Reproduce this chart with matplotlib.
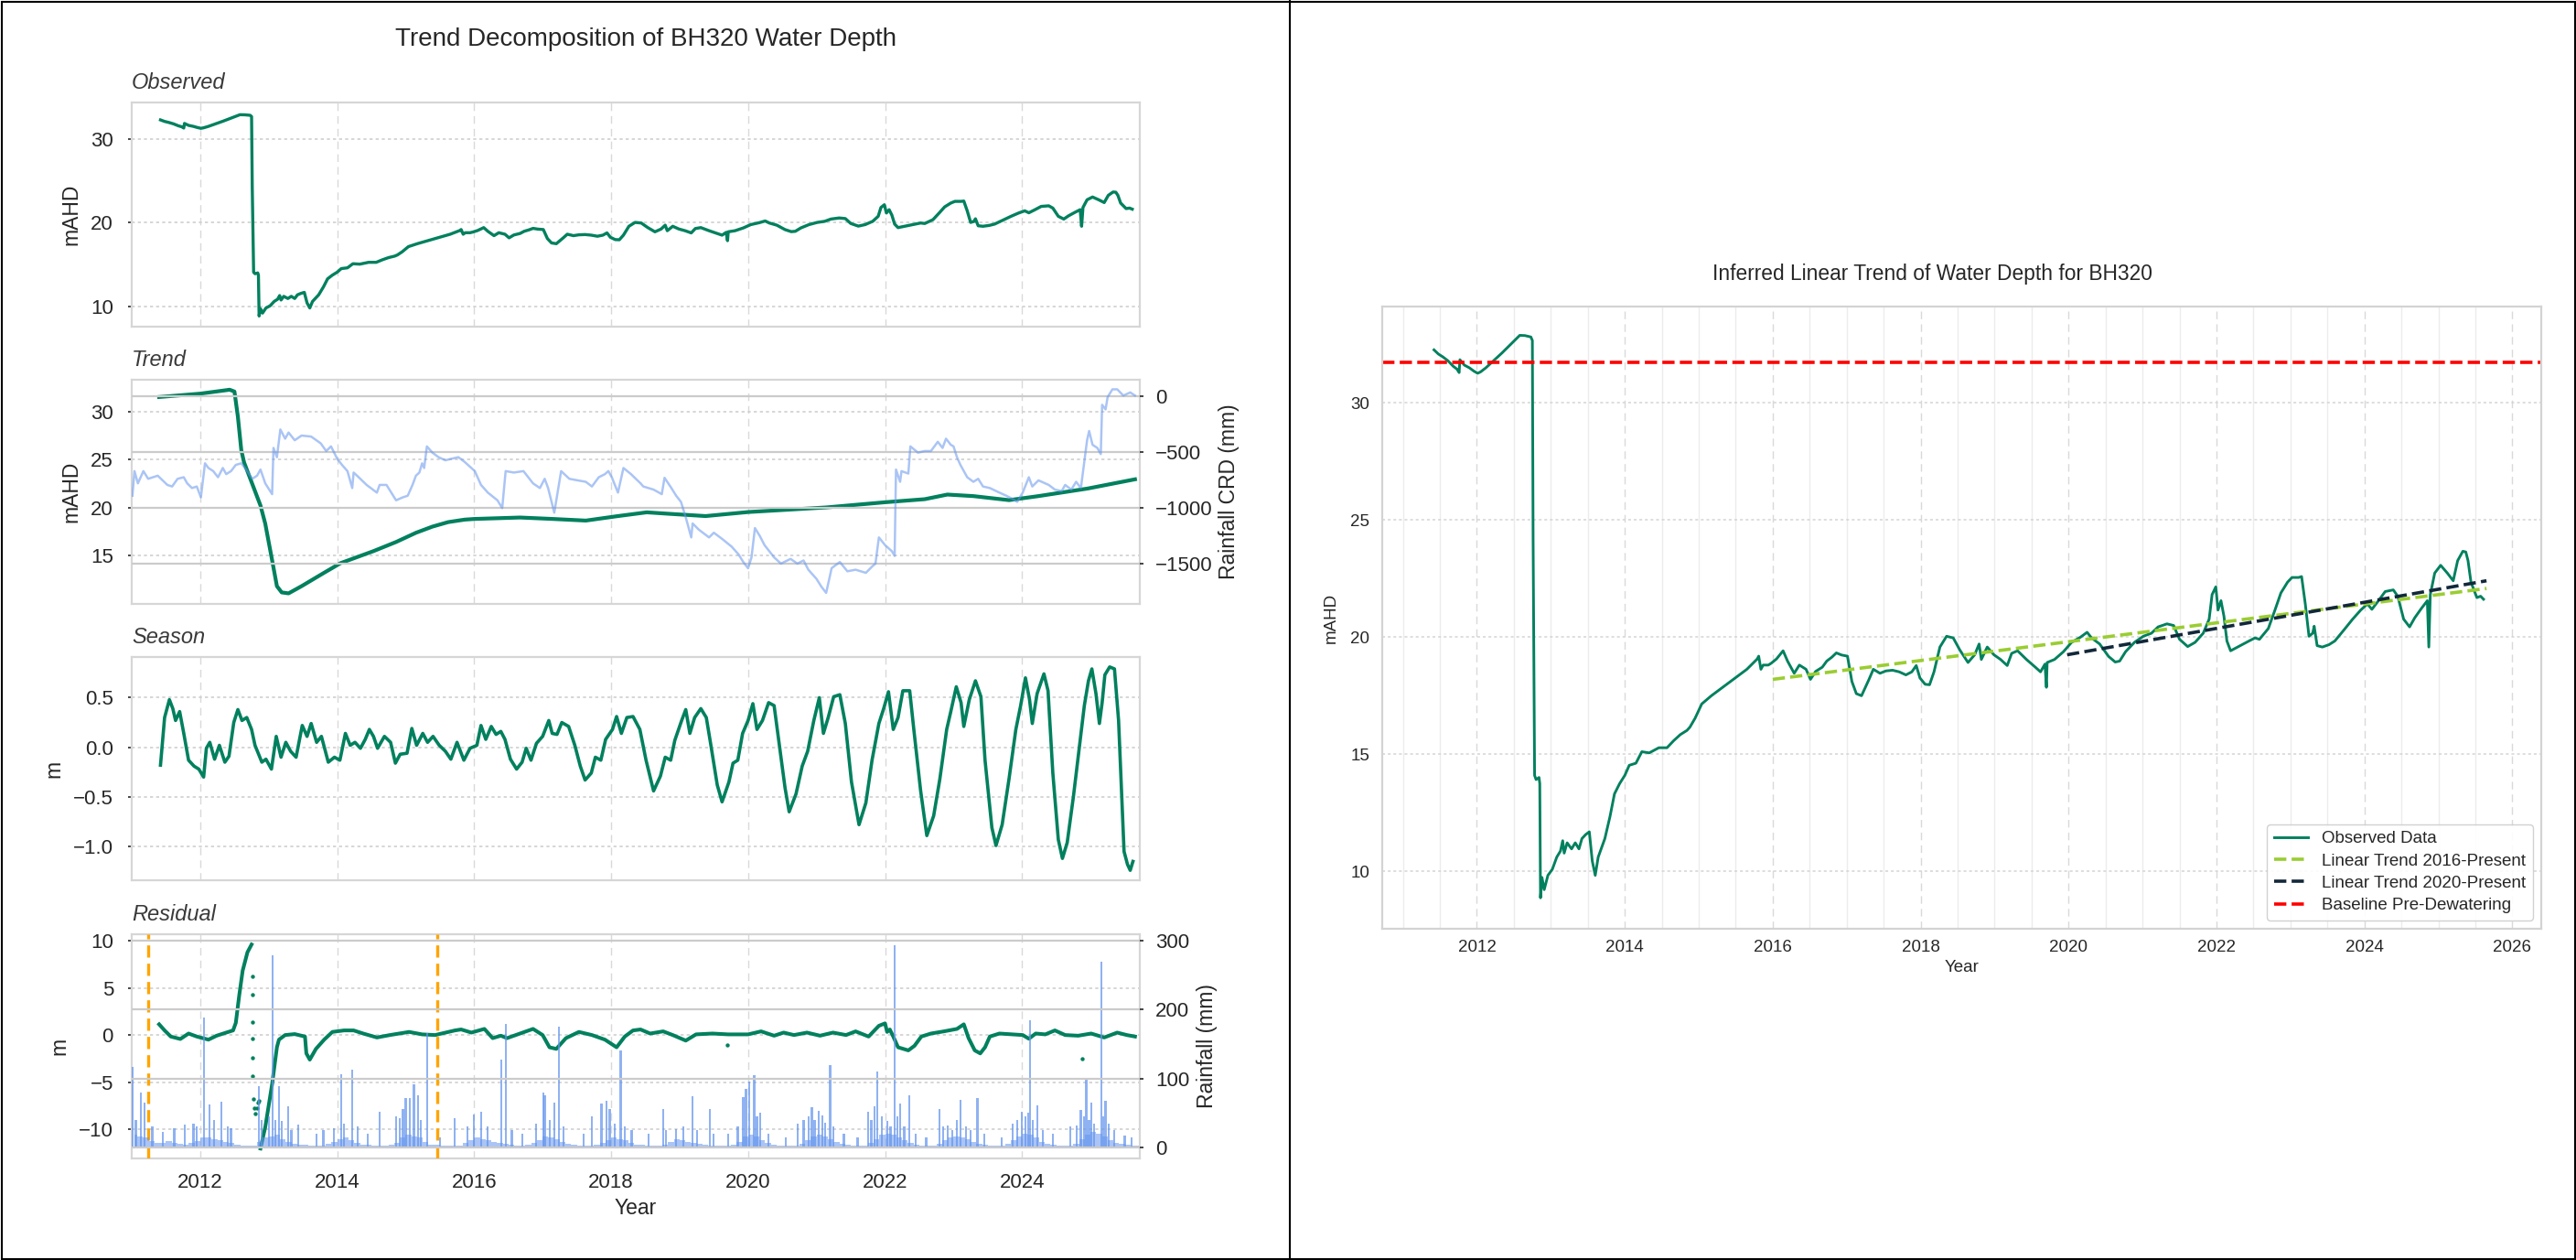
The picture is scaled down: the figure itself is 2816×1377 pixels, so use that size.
import numpy as np
import matplotlib
matplotlib.use("Agg")
import matplotlib.pyplot as plt
from matplotlib.patches import Rectangle
from matplotlib.lines import Line2D
from matplotlib.ticker import FixedLocator, MultipleLocator, FuncFormatter

# ---------------------------------------------------------------- data
obs_year = [2011.42, 2011.48, 2011.54, 2011.61, 2011.68, 2011.73, 2011.76, 2011.77, 2011.83, 2011.90,
            2011.96, 2012.01, 2012.05, 2012.12, 2012.34, 2012.58, 2012.65, 2012.73, 2012.75, 2012.76,
            2012.78, 2012.80, 2012.84, 2012.85, 2012.86, 2012.88, 2012.91, 2012.96, 2013.02, 2013.08,
            2013.13, 2013.16, 2013.18, 2013.22, 2013.28, 2013.33, 2013.38, 2013.42, 2013.47, 2013.52,
            2013.56, 2013.60, 2013.64, 2013.69, 2013.73, 2013.80, 2013.86, 2013.93, 2014.00, 2014.06,
            2014.15, 2014.23, 2014.33, 2014.46, 2014.57, 2014.66, 2014.75, 2014.84, 2014.88, 2014.95,
            2015.04, 2015.17, 2015.43, 2015.65, 2015.79, 2015.81, 2015.84, 2015.87, 2015.94, 2015.98,
            2016.05, 2016.14, 2016.20, 2016.29, 2016.36, 2016.45, 2016.51, 2016.58, 2016.67, 2016.73,
            2016.80, 2016.86, 2016.93, 2017.01, 2017.07, 2017.13, 2017.20, 2017.30, 2017.36, 2017.45,
            2017.53, 2017.62, 2017.71, 2017.80, 2017.88, 2017.94, 2017.99, 2018.06, 2018.12, 2018.18,
            2018.26, 2018.35, 2018.44, 2018.53, 2018.64, 2018.73, 2018.79, 2018.82, 2018.90, 2018.99,
            2019.08, 2019.17, 2019.23, 2019.31, 2019.43, 2019.55, 2019.62, 2019.68, 2019.70, 2019.71,
            2019.81, 2019.93, 2020.04, 2020.16, 2020.25, 2020.31, 2020.42, 2020.54, 2020.63, 2020.69,
            2020.77, 2020.89, 2021.01, 2021.12, 2021.21, 2021.33, 2021.42, 2021.50, 2021.61, 2021.71,
            2021.82, 2021.90, 2021.94, 2021.99, 2022.02, 2022.06, 2022.10, 2022.14, 2022.19, 2022.32,
            2022.44, 2022.52, 2022.58, 2022.70, 2022.79, 2022.87, 2022.96, 2023.02, 2023.11, 2023.15,
            2023.20, 2023.25, 2023.30, 2023.32, 2023.36, 2023.43, 2023.52, 2023.60, 2023.72, 2023.84,
            2023.95, 2024.04, 2024.10, 2024.19, 2024.28, 2024.39, 2024.45, 2024.53, 2024.61, 2024.68,
            2024.77, 2024.85, 2024.87, 2024.89, 2024.95, 2025.03, 2025.12, 2025.20, 2025.26, 2025.33,
            2025.37, 2025.40, 2025.44, 2025.48, 2025.52, 2025.57, 2025.61]
obs_mahd = [32.27, 32.09, 31.97, 31.80, 31.57, 31.45, 31.30, 31.85, 31.62, 31.50,
            31.36, 31.27, 31.33, 31.50, 32.14, 32.89, 32.88, 32.82, 32.67, 24.21,
            14.10, 13.92, 14.01, 13.75, 8.87, 9.74, 9.22, 9.83, 10.09, 10.61,
            10.87, 11.31, 10.78, 11.22, 10.96, 11.22, 10.96, 11.40, 11.57, 11.69,
            10.44, 9.83, 10.61, 11.05, 11.40, 12.35, 13.31, 13.75, 14.10, 14.53,
            14.62, 15.11, 15.06, 15.28, 15.28, 15.58, 15.84, 16.02, 16.16, 16.54,
            17.15, 17.50, 18.11, 18.63, 19.07, 19.19, 18.63, 18.81, 18.81, 18.89,
            19.07, 19.42, 18.98, 18.46, 18.81, 18.63, 18.20, 18.54, 18.72, 18.98,
            19.15, 19.33, 19.24, 19.19, 18.11, 17.59, 17.50, 18.19, 18.63, 18.46,
            18.56, 18.59, 18.52, 18.39, 18.52, 18.79, 18.26, 17.99, 17.97, 18.52,
            19.58, 20.04, 19.97, 19.45, 18.92, 19.25, 19.71, 19.05, 19.58, 19.25,
            19.05, 18.79, 19.31, 19.42, 19.05, 18.72, 18.52, 18.85, 17.86, 18.92,
            19.05, 19.38, 19.78, 20.00, 20.21, 19.97, 19.71, 19.18, 18.94, 18.98,
            19.38, 19.78, 20.04, 20.17, 20.44, 20.57, 20.50, 19.91, 19.60, 19.78,
            20.17, 20.77, 21.82, 22.15, 21.16, 21.56, 20.90, 19.84, 19.42, 19.64,
            19.84, 19.97, 19.91, 20.37, 21.16, 21.89, 22.35, 22.55, 22.55, 22.59,
            21.42, 20.04, 20.17, 20.47, 19.64, 19.58, 19.68, 19.84, 20.30, 20.77,
            21.16, 21.42, 21.19, 21.56, 21.95, 22.02, 21.75, 20.77, 20.44, 20.83,
            21.23, 21.56, 19.58, 21.82, 22.74, 23.07, 22.74, 22.41, 23.27, 23.67,
            23.64, 23.27, 22.35, 22.02, 21.69, 21.75, 21.62]

trend_year = [2011.40, 2012.00, 2012.43, 2012.50, 2012.55, 2012.60, 2012.64, 2012.76, 2012.88, 2012.95,
              2013.05, 2013.12, 2013.19, 2013.29, 2013.48, 2013.81, 2014.05, 2014.53, 2014.86, 2015.15,
              2015.39, 2015.62, 2015.86, 2016.00, 2016.67, 2017.15, 2017.63, 2018.10, 2018.52, 2018.86,
              2019.38, 2020.00, 2021.14, 2022.00, 2022.58, 2022.91, 2023.29, 2023.81, 2024.24, 2024.96,
              2025.65]
trend_mahd = [31.50, 31.85, 32.26, 32.07, 29.46, 25.96, 24.70, 22.45, 20.20, 18.30,
              14.50, 11.80, 11.15, 11.05, 11.80, 13.20, 14.20, 15.45, 16.40, 17.36,
              18.00, 18.47, 18.73, 18.80, 18.95, 18.80, 18.63, 19.10, 19.49, 19.33,
              19.10, 19.52, 20.00, 20.54, 20.86, 21.34, 21.18, 20.76, 21.18, 21.97,
              22.93]

crd_year = [2011.01, 2011.04, 2011.09, 2011.17, 2011.24, 2011.38, 2011.52, 2011.59, 2011.67, 2011.76,
            2011.81, 2011.88, 2011.95, 2012.01, 2012.07, 2012.12, 2012.19, 2012.26, 2012.33, 2012.38,
            2012.45, 2012.52, 2012.60, 2012.67, 2012.76, 2012.83, 2012.88, 2012.95, 2013.05, 2013.07,
            2013.12, 2013.17, 2013.24, 2013.29, 2013.38, 2013.48, 2013.62, 2013.76, 2013.84, 2013.91,
            2014.00, 2014.07, 2014.15, 2014.22, 2014.24, 2014.29, 2014.43, 2014.58, 2014.62, 2014.72,
            2014.79, 2014.86, 2014.96, 2015.03, 2015.10, 2015.15, 2015.20, 2015.24, 2015.27, 2015.31,
            2015.39, 2015.48, 2015.58, 2015.67, 2015.77, 2015.86, 2016.01, 2016.10, 2016.20, 2016.34,
            2016.41, 2016.46, 2016.58, 2016.72, 2016.86, 2016.96, 2017.03, 2017.08, 2017.17, 2017.27,
            2017.39, 2017.51, 2017.63, 2017.72, 2017.82, 2017.91, 2017.96, 2018.01, 2018.10, 2018.18,
            2018.29, 2018.43,
            2018.47, 2018.62, 2018.74, 2018.78, 2018.88, 2018.95, 2019.02, 2019.09, 2019.17, 2019.19,
            2019.28, 2019.43, 2019.50, 2019.62, 2019.76, 2019.86, 2019.93, 2020.00, 2020.05, 2020.10,
            2020.17, 2020.24, 2020.38, 2020.48, 2020.62, 2020.72, 2020.81, 2020.88, 2021.00, 2021.07,
            2021.14, 2021.22, 2021.34, 2021.45, 2021.57, 2021.72, 2021.81, 2021.86, 2021.91, 2022.00,
            2022.10, 2022.14, 2022.16, 2022.22, 2022.24, 2022.34, 2022.37, 2022.48, 2022.58, 2022.67,
            2022.77, 2022.84, 2022.89, 2022.96, 2023.00, 2023.05, 2023.10, 2023.20, 2023.29, 2023.36,
            2023.43, 2023.53, 2023.67, 2023.77, 2023.86, 2023.93, 2024.01, 2024.10, 2024.15, 2024.24,
            2024.39, 2024.48, 2024.58, 2024.63, 2024.72, 2024.79, 2024.86, 2024.91, 2024.95, 2024.98,
            2025.03, 2025.10, 2025.15, 2025.17, 2025.22, 2025.25, 2025.32, 2025.39, 2025.48, 2025.58,
            2025.65]
crd_mm = [-891, -670, -780, -670, -739, -711, -794, -808, -739, -725,
          -780, -822, -808, -905, -600, -642, -670, -725, -642, -697,
          -670, -614, -600, -656, -739, -711, -656, -780, -877, -462,
          -545, -296, -379, -324, -393, -351, -360, -421, -490, -448,
          -559, -614, -670, -822, -683, -711, -794, -863, -794, -794,
          -863, -932, -905, -891, -794, -711, -683, -600, -642, -448,
          -504, -545, -573, -559, -545, -587, -670, -794, -863, -932,
          -1002, -670, -683, -670, -780, -822, -739, -822, -1043, -670,
          -739, -753, -766, -808, -725, -697, -670, -725, -863, -642,
          -697, -780,
          -808, -836, -877, -730, -822, -891, -946, -1085, -1265, -1140,
          -1195, -1265, -1223, -1278, -1348, -1417, -1486, -1542, -1444, -1181,
          -1251, -1334, -1444, -1500, -1458, -1500, -1472, -1555, -1638, -1707,
          -1763, -1541, -1486, -1569, -1555, -1583, -1527, -1500, -1265, -1334,
          -1389, -1431, -656, -766, -670, -692, -448, -504, -490, -490,
          -407, -462, -379, -434, -448, -545, -614, -725, -766, -739,
          -808, -822, -863, -891, -919, -946, -863, -725, -808, -753,
          -794, -836, -849, -794, -836, -766, -822, -587, -393, -310,
          -434, -462, -517, -75, -116, -6, 64, 64, 8, 36,
          8]

season_year = [2011.42, 2011.48, 2011.55, 2011.60, 2011.64, 2011.70, 2011.76, 2011.83, 2011.91, 2011.98,
               2012.05, 2012.09, 2012.14, 2012.21, 2012.28, 2012.36, 2012.42, 2012.49, 2012.55, 2012.61,
               2012.68, 2012.75, 2012.80, 2012.90, 2012.96, 2013.04, 2013.11, 2013.18, 2013.25, 2013.32,
               2013.40, 2013.49, 2013.56, 2013.62, 2013.70, 2013.77, 2013.87, 2013.96, 2014.04, 2014.12,
               2014.19, 2014.26, 2014.34, 2014.41, 2014.47, 2014.53, 2014.59, 2014.69, 2014.78, 2014.85,
               2014.92, 2015.02, 2015.09, 2015.16, 2015.25, 2015.32, 2015.40, 2015.49, 2015.58, 2015.66,
               2015.75, 2015.85, 2015.94, 2016.04, 2016.10, 2016.17, 2016.25, 2016.32, 2016.39, 2016.45,
               2016.53, 2016.62, 2016.70, 2016.76, 2016.83, 2016.91, 2017.00, 2017.09, 2017.14, 2017.21,
               2017.28, 2017.38, 2017.47, 2017.55, 2017.62, 2017.71, 2017.77, 2017.85, 2017.92, 2018.02,
               2018.08, 2018.15, 2018.23, 2018.32, 2018.42, 2018.51, 2018.62, 2018.72, 2018.79, 2018.87,
               2018.93, 2019.03, 2019.09, 2019.15, 2019.22, 2019.31, 2019.39, 2019.45, 2019.55, 2019.62,
               2019.72, 2019.78, 2019.85, 2019.92, 2020.00, 2020.07, 2020.13, 2020.21, 2020.30, 2020.38,
               2020.44, 2020.54, 2020.60, 2020.70, 2020.79, 2020.87, 2020.96, 2021.04, 2021.10, 2021.17,
               2021.25, 2021.34, 2021.42, 2021.51, 2021.62, 2021.72, 2021.81, 2021.91, 2021.98, 2022.05,
               2022.12, 2022.19, 2022.26, 2022.36, 2022.42, 2022.52, 2022.61, 2022.71, 2022.80, 2022.90,
               2022.96, 2023.04, 2023.11, 2023.15, 2023.23, 2023.32, 2023.40, 2023.46, 2023.56, 2023.62,
               2023.71, 2023.81, 2023.91, 2023.98, 2024.05, 2024.11, 2024.15, 2024.22, 2024.32, 2024.38,
               2024.45, 2024.53, 2024.59, 2024.66, 2024.75, 2024.83, 2024.91, 2024.97, 2025.02, 2025.08,
               2025.13, 2025.17, 2025.21, 2025.28, 2025.35, 2025.41, 2025.49, 2025.54, 2025.58, 2025.62]
season_m = [-0.18, 0.30, 0.48, 0.39, 0.27, 0.36, 0.14, -0.13, -0.19, -0.22,
            -0.30, -0.01, 0.05, -0.12, 0.02, -0.15, -0.09, 0.25, 0.38, 0.27,
            0.30, 0.18, 0.02, -0.15, -0.12, -0.22, 0.11, -0.10, 0.05, -0.04,
            -0.10, 0.22, 0.11, 0.24, 0.05, 0.11, -0.15, -0.10, -0.13, 0.14,
            0.02, 0.05, -0.01, 0.08, 0.18, 0.11, -0.01, 0.11, 0.05, -0.16,
            -0.07, -0.06, 0.19, 0.02, 0.14, 0.05, 0.11, 0.02, -0.04, -0.12,
            0.05, -0.13, -0.01, 0.02, 0.22, 0.08, 0.21, 0.13, 0.16, 0.08,
            -0.12, -0.22, -0.15, -0.01, -0.13, 0.04, 0.11, 0.27, 0.14, 0.13,
            0.25, 0.21, 0.02, -0.19, -0.33, -0.26, -0.10, -0.13, 0.08, 0.18,
            0.31, 0.14, 0.30, 0.31, 0.18, -0.13, -0.44, -0.29, -0.10, -0.13,
            0.07, 0.27, 0.38, 0.14, 0.30, 0.39, 0.30, 0.05, -0.38, -0.55,
            -0.35, -0.16, -0.13, 0.14, 0.27, 0.44, 0.18, 0.27, 0.45, 0.42,
            0.11, -0.41, -0.65, -0.47, -0.19, -0.04, 0.27, 0.50, 0.14, 0.30,
            0.51, 0.53, 0.24, -0.35, -0.78, -0.56, -0.13, 0.24, 0.39, 0.56,
            0.18, 0.30, 0.57, 0.57, 0.18, -0.44, -0.89, -0.69, -0.32, 0.18,
            0.36, 0.61, 0.45, 0.21, 0.48, 0.67, 0.51, -0.13, -0.81, -0.99,
            -0.78, -0.32, 0.18, 0.42, 0.70, 0.48, 0.24, 0.54, 0.74, 0.57,
            -0.26, -0.93, -1.12, -0.96, -0.50, -0.04, 0.42, 0.67, 0.79, 0.54,
            0.24, 0.45, 0.73, 0.81, 0.79, 0.27, -1.05, -1.18, -1.24, -1.15]

resid_a_year = [2011.40, 2011.48, 2011.57, 2011.71, 2011.83, 2011.95, 2012.12, 2012.24, 2012.38, 2012.48,
                2012.52, 2012.57, 2012.62, 2012.69, 2012.75]
resid_a_m = [1.14, 0.49, -0.16, -0.42, 0.16, -0.16, -0.49, -0.07, 0.26, 0.49,
             1.30, 4.23, 6.84, 8.79, 9.61]
resid_b_year = [2012.88, 2012.95, 2013.05, 2013.12, 2013.15, 2013.24, 2013.38, 2013.53, 2013.55, 2013.60,
                2013.69, 2013.81, 2013.93, 2014.10, 2014.24, 2014.38, 2014.58, 2014.77, 2015.05, 2015.24,
                2015.43, 2015.72, 2015.81, 2015.96, 2016.15, 2016.27, 2016.39, 2016.48, 2016.67, 2016.86,
                2017.00, 2017.10, 2017.20, 2017.34, 2017.53, 2017.72, 2017.91, 2018.08, 2018.20, 2018.32,
                2018.43, 2018.57, 2018.76, 2018.90, 2019.09, 2019.24, 2019.48, 2019.71, 2020.00, 2020.19,
                2020.38, 2020.52, 2020.67, 2020.86, 2021.05, 2021.24, 2021.43, 2021.57, 2021.76, 2021.91,
                2022.00, 2022.03, 2022.07, 2022.12, 2022.19, 2022.34, 2022.43, 2022.53, 2022.67, 2022.86,
                2023.05, 2023.15, 2023.22, 2023.31, 2023.39, 2023.46, 2023.53, 2023.67, 2023.86, 2024.01,
                2024.10, 2024.20, 2024.34, 2024.48, 2024.63, 2024.82, 2025.01, 2025.20, 2025.39, 2025.53,
                2025.65]
resid_b_m = [-12.05, -9.77, -5.21, -1.30, -0.49, 0.00, 0.10, -0.16, -1.95, -2.61,
             -1.47, -0.49, 0.33, 0.49, 0.49, 0.16, -0.26, 0.00, 0.33, 0.07,
             0.00, 0.49, 0.59, 0.26, 0.65, -0.33, -0.07, -0.33, 0.16, 0.65,
             0.00, -1.30, -1.47, -0.33, 0.33, 0.00, -0.49, -1.30, -0.16, 0.49,
             0.59, 0.16, 0.39, 0.00, -0.59, 0.07, 0.16, 0.07, 0.07, 0.39,
             -0.07, 0.26, 0.00, 0.26, -0.07, 0.26, 0.00, 0.39, -0.16, 0.98,
             1.24, 0.33, 0.59, -0.16, -1.30, -1.63, -1.14, -0.16, 0.16, 0.39,
             0.65, 1.14, -0.33, -1.63, -1.95, -1.30, -0.16, 0.16, 0.07, 0.00,
             -0.39, 0.16, 0.07, 0.49, 0.00, -0.07, 0.16, -0.26, 0.26, 0.00,
             -0.16]
resid_dot_year = [2012.763, 2012.763, 2012.763, 2012.763, 2012.763, 2012.763,
                  2012.78, 2012.785, 2012.80, 2012.825, 2012.85, 2012.86, 2019.70, 2024.88]
resid_dot_m = [6.19, 4.30, 1.37, -0.39, -2.44, -4.40,
               -6.8, -7.8, -8.3, -7.8, -7.2, -7.0, -1.04, -2.51]

rain_year = [2011.01, 2011.06, 2011.13, 2011.19, 2011.30, 2011.45, 2011.62, 2011.77, 2011.90, 2011.95,
             2012.06, 2012.14, 2012.20, 2012.31, 2012.40, 2012.45, 2012.86, 2012.90, 2013.00, 2013.06,
             2013.10, 2013.15, 2013.19, 2013.28, 2013.33, 2013.43, 2013.70, 2013.80, 2013.95, 2014.06,
             2014.10, 2014.22, 2014.30, 2014.45, 2014.62, 2014.86, 2014.91, 2014.96, 2015.00, 2015.06,
             2015.12, 2015.18, 2015.22, 2015.31, 2015.50, 2015.72, 2015.90, 2016.00, 2016.10, 2016.20,
             2016.40, 2016.46, 2016.55, 2016.70, 2016.90, 2017.01, 2017.03, 2017.10, 2017.17, 2017.24,
             2017.30, 2017.60, 2017.72, 2017.86, 2017.93, 2017.98, 2018.05, 2018.14, 2018.20, 2018.30,
             2018.55, 2018.76, 2018.80, 2018.95, 2019.05, 2019.19, 2019.25, 2019.44, 2019.50, 2019.71,
             2019.85, 2019.93, 2019.97, 2020.02, 2020.09, 2020.13, 2020.18, 2020.30, 2020.55, 2020.72,
             2020.81, 2020.88, 2020.93, 2020.97, 2021.03, 2021.08, 2021.12, 2021.20, 2021.25, 2021.40,
             2021.60, 2021.75, 2021.80, 2021.85, 2021.89, 2021.95, 2022.03, 2022.08, 2022.14, 2022.18,
             2022.22, 2022.28, 2022.35, 2022.45, 2022.60, 2022.79, 2022.85, 2022.91, 2022.98, 2023.05,
             2023.10, 2023.18, 2023.25, 2023.35, 2023.45, 2023.70, 2023.86, 2023.93, 2024.00, 2024.05,
             2024.09, 2024.12, 2024.16, 2024.22, 2024.30, 2024.45, 2024.70, 2024.80, 2024.86, 2024.91,
             2024.94, 2024.98, 2025.01, 2025.05, 2025.16, 2025.19, 2025.22, 2025.27, 2025.35, 2025.50,
             2025.60]
rain_mm = [116, 40, 79, 65, 30, 22, 28, 33, 34, 30,
           188, 62, 40, 66, 30, 28, 89, 40, 45, 278,
           40, 89, 39, 60, 25, 33, 20, 25, 28, 106,
           35, 113, 30, 20, 52, 45, 42, 55, 72, 72,
           92, 76, 40, 166, 15, 43, 30, 48, 51, 30,
           127, 179, 25, 20, 35, 79, 75, 40, 65, 175,
           30, 20, 45, 63, 67, 56, 35, 140, 30, 25,
           20, 55, 25, 26, 30, 74, 25, 55, 20, 20,
           30, 73, 85, 95, 105, 45, 50, 20, 15, 35,
           40, 45, 58, 40, 53, 47, 36, 119, 30, 20,
           15, 52, 40, 60, 110, 45, 39, 30, 293, 45,
           63, 30, 76, 20, 15, 56, 30, 32, 25, 40,
           69, 30, 25, 72, 20, 15, 34, 40, 52, 45,
           50, 184, 40, 61, 25, 20, 30, 32, 54, 45,
           98, 40, 65, 35, 269, 45, 67, 34, 25, 17,
           15]
# typical (background) daily rainfall level for each month, Jan 2011 - Sep 2025
rain_base_mm = [18, 16, 14, 9, 6, 7, 9, 6, 5, 4, 6, 9,
                14, 15, 12, 10, 8, 6, 4, 3, 2, 3, 8, 14,
                16, 18, 12, 8, 5, 4, 4, 3, 3, 3, 5, 8,
                12, 14, 10, 6, 4, 4, 3, 3, 3, 4, 6, 14,
                18, 16, 14, 8, 4, 4, 3, 2, 2, 3, 6, 10,
                14, 12, 10, 8, 6, 5, 4, 3, 3, 4, 6, 10,
                16, 14, 12, 8, 5, 4, 3, 3, 3, 4, 6, 10,
                14, 12, 10, 6, 4, 4, 3, 3, 3, 4, 8, 12,
                10, 8, 7, 5, 4, 3, 3, 3, 3, 4, 8, 16,
                18, 16, 10, 6, 4, 3, 3, 3, 3, 5, 10, 16,
                18, 16, 12, 8, 5, 4, 3, 3, 3, 6, 12, 18,
                20, 18, 14, 10, 6, 4, 3, 3, 3, 5, 10, 14,
                16, 14, 12, 8, 5, 4, 3, 3, 3, 5, 10, 16,
                20, 18, 14, 8, 5, 4, 3, 3, 3, 5, 12, 18,
                22, 20, 16, 10, 6, 5, 4, 3, 3]
rain_base_start = 2011.0

event_years = [2011.24, 2015.46]

trend16_year = [2016.00, 2025.65]
trend16_mahd = [18.20, 22.08]
trend20_year = [2019.98, 2025.65]
trend20_mahd = [19.25, 22.41]
baseline_mahd = 31.73

left_year_ticks = [2012, 2014, 2016, 2018, 2020, 2022, 2024]

# ---------------------------------------------------------------- style
W, H = 2816, 1377
plt.rcParams['font.family'] = ['Liberation Sans', 'DejaVu Sans']
TXT = '#262626'
GREEN = '#00805e'
BLUE = 'cornflowerblue'

fig = plt.figure(figsize=(W / 100, H / 100), dpi=100)
fig.patch.set_facecolor('white')


def add_ax(l, t, r, b):
    return fig.add_axes([l / W, 1 - b / H, (r - l) / W, (b - t) / H])


year_fmt = FuncFormatter(lambda v, p: f'{int(round(v))}')


def style_left(ax, show_x):
    for s in ax.spines.values():
        s.set_color('#d6d6d6')
        s.set_linewidth(1.6)
    ax.set_xlim(2011.0, 2025.72)
    ax.xaxis.set_major_locator(FixedLocator(left_year_ticks))
    ax.xaxis.set_major_formatter(year_fmt)
    ax.grid(True, axis='x', color='#d9d9d9', lw=1.0, ls=(0, (6, 4)))
    ax.grid(True, axis='y', color='#cfcfcf', lw=1.2, ls=(0, (2, 2)))
    ax.set_axisbelow(True)
    ax.tick_params(axis='x', length=0, pad=11.5, labelsize=16, labelbottom=show_x, colors=TXT)
    ax.tick_params(axis='y', length=3, width=1.2, pad=11.4, labelsize=16, colors=TXT)


def style_twin(ax):
    for s in ax.spines.values():
        s.set_visible(False)
    ax.grid(False, axis='x')
    ax.grid(True, axis='y', color='#cbcbcb', lw=1.6, ls='-')
    ax.tick_params(axis='y', length=3, width=1.2, pad=9.5, labelsize=16, colors=TXT)


def sub_title(ax, txt):
    ax.set_title(txt, loc='left', fontstyle='italic', fontsize=17, pad=10.8, color='#3a3a3a')


# ---------------------------------------------------------------- left panel
ax_obs = add_ax(144, 112, 1246, 357)
ax_tr = add_ax(144, 415, 1246, 660)
ax_se = add_ax(144, 718, 1246, 962)
ax_re = add_ax(144, 1021, 1246, 1266)

# observed
ax_obs.plot(obs_year, obs_mahd, color=GREEN, lw=2.4)
style_left(ax_obs, False)
ax_obs.set_ylim(7.6, 34.35)
ax_obs.yaxis.set_major_locator(FixedLocator([10, 20, 30]))
ax_obs.set_ylabel('mAHD', fontsize=16.5, labelpad=7, color=TXT)
sub_title(ax_obs, 'Observed')

# trend + CRD
ax_tr.plot(trend_year, trend_mahd, color=GREEN, lw=3.0)
style_left(ax_tr, False)
ax_tr.set_ylim(9.95, 33.3)
ax_tr.yaxis.set_major_locator(FixedLocator([15, 20, 25, 30]))
ax_tr.set_ylabel('mAHD', fontsize=16.5, labelpad=7, color=TXT)
sub_title(ax_tr, 'Trend')
ax_crd = ax_tr.twinx()
ax_crd.plot(crd_year, crd_mm, color=BLUE, alpha=0.55, lw=1.8)
style_twin(ax_crd)
ax_crd.set_xlim(2011.0, 2025.72)
ax_crd.set_ylim(-1862, 150)
ax_crd.yaxis.set_major_locator(FixedLocator([-1500, -1000, -500, 0]))
ax_crd.set_ylabel('Rainfall CRD (mm)', fontsize=16.5, labelpad=4, color=TXT)

# season
ax_se.plot(season_year, season_m, color=GREEN, lw=2.6)
style_left(ax_se, False)
ax_se.set_ylim(-1.34, 0.91)
ax_se.yaxis.set_major_locator(FixedLocator([-1.0, -0.5, 0.0, 0.5]))
ax_se.yaxis.set_major_formatter(FuncFormatter(lambda v, p: f'{v:.1f}'.replace('-', '\u2212')))
ax_se.set_ylabel('m', fontsize=16.5, labelpad=7, color=TXT)
sub_title(ax_se, 'Season')

# residual + rainfall
ax_re.plot(resid_a_year, resid_a_m, color=GREEN, lw=2.9)
ax_re.plot(resid_b_year, resid_b_m, color=GREEN, lw=2.9)
ax_re.scatter(resid_dot_year, resid_dot_m, s=10, color=GREEN, lw=0, zorder=3)
for ev in event_years:
    ax_re.axvline(ev, color='orange', ls=(0, (4, 2)), lw=2.4, zorder=4)
style_left(ax_re, True)
ax_re.set_ylim(-13.1, 10.7)
ax_re.yaxis.set_major_locator(FixedLocator([-10, -5, 0, 5, 10]))
ax_re.set_ylabel('m', fontsize=16.5, labelpad=7, color=TXT)
ax_re.set_xlabel('Year', fontsize=16.5, labelpad=4, color=TXT)
sub_title(ax_re, 'Residual')

ax_rain = ax_re.twinx()
month_mid = rain_base_start + (np.arange(len(rain_base_mm)) + 0.5) / 12.0
ax_rain.fill_between(month_mid, rain_base_mm, step='mid', color=BLUE, alpha=0.55, lw=0)
ax_rain.bar(rain_year, rain_mm, width=0.03, color=BLUE, alpha=0.72, lw=0)
style_twin(ax_rain)
ax_rain.set_xlim(2011.0, 2025.72)
ax_rain.set_ylim(-16, 309)
ax_rain.yaxis.set_major_locator(FixedLocator([0, 100, 200, 300]))
ax_rain.set_ylabel('Rainfall (mm)', fontsize=16.5, labelpad=5, color=TXT)

fig.text(706 / W, 1 - 50.4 / H, 'Trend Decomposition of BH320 Water Depth',
         ha='center', va='baseline', fontsize=20, color=TXT)

# ---------------------------------------------------------------- right panel
ax_r = add_ax(1511, 335, 2778, 1015)
ax_r.plot(obs_year, obs_mahd, color=GREEN, lw=2.1, label='Observed Data')
ax_r.plot(trend16_year, trend16_mahd, color='yellowgreen', ls='--', lw=2.6,
          label='Linear Trend 2016-Present')
ax_r.plot(trend20_year, trend20_mahd, color='#12283a', ls='--', lw=2.6,
          label='Linear Trend 2020-Present')
ax_r.axhline(baseline_mahd, color='red', ls='--', lw=2.6, label='Baseline Pre-Dewatering')
for s in ax_r.spines.values():
    s.set_color('#d3d3d3')
    s.set_linewidth(1.6)
ax_r.set_xlim(2010.72, 2026.39)
ax_r.set_ylim(7.55, 34.12)
ax_r.xaxis.set_major_locator(MultipleLocator(2))
ax_r.xaxis.set_minor_locator(MultipleLocator(0.5))
ax_r.xaxis.set_major_formatter(year_fmt)
ax_r.yaxis.set_major_locator(FixedLocator([10, 15, 20, 25, 30]))
ax_r.grid(True, which='minor', axis='x', color='#ececec', lw=1.0, ls='-')
ax_r.grid(True, which='major', axis='x', color='#d9d9d9', lw=1.0, ls=(0, (6, 4)))
ax_r.grid(True, which='major', axis='y', color='#d4d4d4', lw=1.1, ls=(0, (2, 2)))
ax_r.set_axisbelow(True)
ax_r.tick_params(axis='x', which='both', length=0, pad=8.3, labelsize=13.5, colors=TXT)
ax_r.tick_params(axis='y', length=0, pad=10, labelsize=13.5, colors=TXT)
ax_r.set_ylabel('mAHD', fontsize=13.5, labelpad=8.6, color=TXT)
ax_r.set_xlabel('Year', fontsize=13.5, labelpad=3.6, color=TXT)
leg = ax_r.legend(loc='lower right', fontsize=13.5, frameon=True, framealpha=0.9,
                  edgecolor='#cccccc', labelspacing=0.38, handlelength=2.0, borderpad=0.4)
for t in leg.get_texts():
    t.set_color(TXT)

fig.text(2112.7 / W, 1 - 306 / H, 'Inferred Linear Trend of Water Depth for BH320',
         ha='center', va='baseline', fontsize=16.4, color=TXT)

# ---------------------------------------------------------------- frame lines
fig.add_artist(Rectangle((1.5 / W, 1.5 / H), (W - 3) / W, (H - 3) / H, transform=fig.transFigure,
                         fill=False, ec='black', lw=1.5))
fig.add_artist(Line2D([1410 / W, 1410 / W], [0, 1], transform=fig.transFigure, color='black', lw=1.5))

fig.savefig('out.png', dpi=100, facecolor='white')
